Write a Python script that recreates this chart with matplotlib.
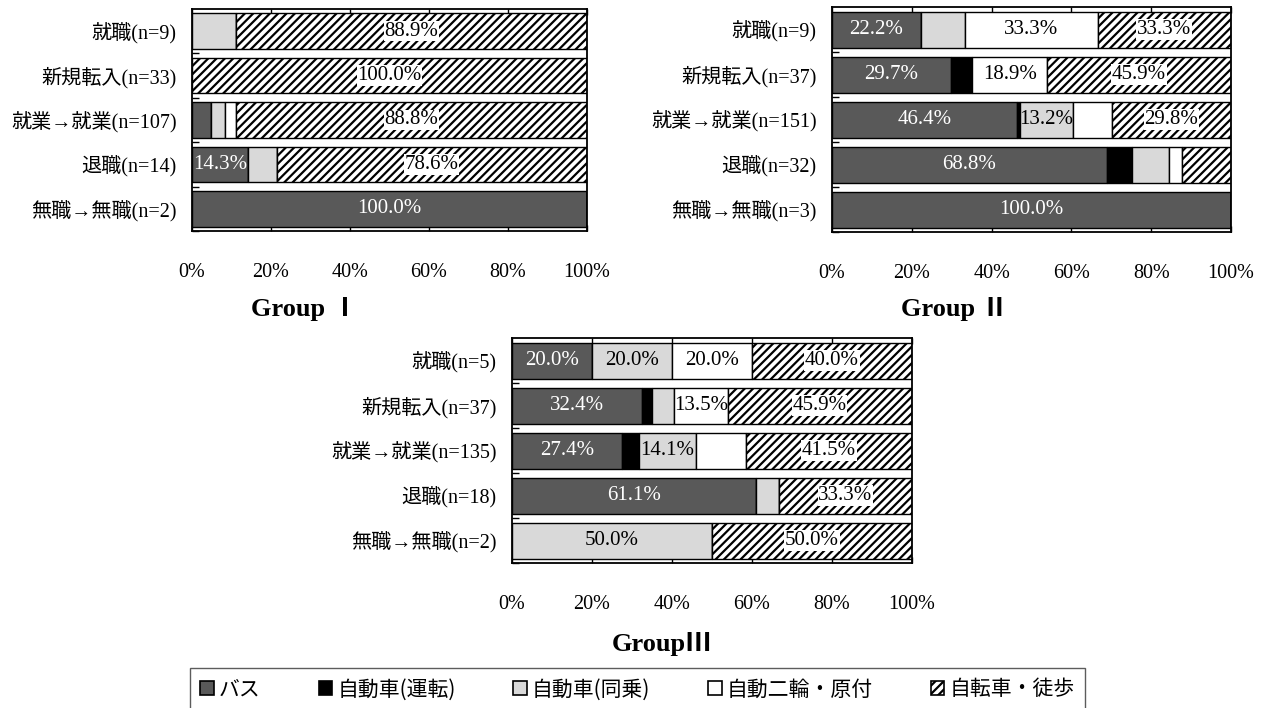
import numpy as np
import matplotlib
matplotlib.use("Agg")
import matplotlib.pyplot as plt
from matplotlib.patches import Patch

plt.rcParams['hatch.linewidth'] = 1.6
SERIF = ['Liberation Serif', 'Noto Sans CJK JP']
SANS = ['Noto Sans CJK JP', 'DejaVu Sans']

modes = ['バス', '自動車(運転)', '自動車(同乗)', '自動二輪・原付', '自転車・徒歩']

cats_I = ['就職(n=9)', '新規転入(n=33)', '就業→就業(n=107)', '退職(n=14)', '無職→無職(n=2)']
bus_I = [0.0, 0.0, 4.7, 14.3, 100.0]
drive_I = [0.0, 0.0, 0.0, 0.0, 0.0]
ride_I = [11.1, 0.0, 3.7, 7.1, 0.0]
moto_I = [0.0, 0.0, 2.8, 0.0, 0.0]
walk_I = [88.9, 100.0, 88.8, 78.6, 0.0]

cats_II = ['就職(n=9)', '新規転入(n=37)', '就業→就業(n=151)', '退職(n=32)', '無職→無職(n=3)']
bus_II = [22.2, 29.7, 46.4, 68.8, 100.0]
drive_II = [0.0, 5.4, 0.7, 6.3, 0.0]
ride_II = [11.1, 0.0, 13.2, 9.4, 0.0]
moto_II = [33.3, 18.9, 9.9, 3.1, 0.0]
walk_II = [33.3, 45.9, 29.8, 12.5, 0.0]

cats_III = ['就職(n=5)', '新規転入(n=37)', '就業→就業(n=135)', '退職(n=18)', '無職→無職(n=2)']
bus_III = [20.0, 32.4, 27.4, 61.1, 0.0]
drive_III = [0.0, 2.7, 4.4, 0.0, 0.0]
ride_III = [20.0, 5.4, 14.1, 5.6, 50.0]
moto_III = [20.0, 13.5, 12.6, 0.0, 0.0]
walk_III = [40.0, 45.9, 41.5, 33.3, 50.0]

x_ticks = [0, 20, 40, 60, 80, 100]
x_ticklabels = ['0%', '20%', '40%', '60%', '80%', '100%']

face = ['#595959', '#000000', '#d9d9d9', '#ffffff', '#ffffff']
hatch = [None, None, None, None, '////']
LABEL_MIN = 13.0

W, H = 1264, 708
fig = plt.figure(figsize=(W / 100, H / 100), dpi=100)


def px_axes(left, top, right, bottom):
    return fig.add_axes([left / W, 1 - bottom / H, (right - left) / W, (bottom - top) / H])


def draw_group(ax, cats, series):
    y = np.arange(len(cats))
    left = np.zeros(len(cats))
    for k, vals in enumerate(series):
        vals = np.asarray(vals, dtype=float)
        ax.barh(y, vals, left=left, height=0.8, color=face[k], hatch=hatch[k],
                edgecolor='black', linewidth=1.0, zorder=2)
        for yi, (l, v) in enumerate(zip(left, vals)):
            if v >= LABEL_MIN:
                kw = dict(ha='center', va='center', fontsize=15, family=SERIF, zorder=4)
                kw['color'] = 'white' if k == 0 else 'black'
                if hatch[k]:
                    kw['bbox'] = dict(facecolor='white', edgecolor='none', pad=0.5)
                ax.text(l + v / 2, yi, f'{v:.1f}%', **kw)
        left = left + vals
    ax.set_xlim(0, 100)
    ax.set_ylim(len(cats) - 0.5, -0.5)
    ax.set_xticks(x_ticks)
    ax.set_xticklabels(x_ticklabels, family=SERIF, fontsize=14.5)
    ax.tick_params(axis='x', direction='in', top=True, bottom=True, length=4,
                   width=1.0, pad=23)
    ax.set_yticks(y)
    ax.set_yticklabels(cats, family=SERIF, fontsize=14.5)
    ax.tick_params(axis='y', length=0, pad=11)
    ax.set_yticks(np.arange(len(cats)) + 0.5, minor=True)
    ax.tick_params(axis='y', which='minor', direction='in', length=5, width=1.0)
    for s in ax.spines.values():
        s.set_linewidth(1.3)
        s.set_color('black')


ax1 = px_axes(192, 9, 587, 231)
draw_group(ax1, cats_I, [bus_I, drive_I, ride_I, moto_I, walk_I])
ax2 = px_axes(832, 7, 1231, 232)
draw_group(ax2, cats_II, [bus_II, drive_II, ride_II, moto_II, walk_II])
ax3 = px_axes(512, 338, 912, 563)
draw_group(ax3, cats_III, [bus_III, drive_III, ride_III, moto_III, walk_III])

title_kw = dict(ha='center', va='center', fontsize=19, fontweight='bold', family=SERIF)
fig.text(305 / W, 1 - 309 / H, 'Group Ⅰ', **title_kw)
fig.text(955 / W, 1 - 309 / H, 'Group Ⅱ', **title_kw)
fig.text(662 / W, 1 - 644 / H, 'GroupⅢ', **title_kw)

handles = [Patch(facecolor=face[k], edgecolor='black', hatch=hatch[k], linewidth=1.2)
           for k in range(len(modes))]
leg = fig.legend(handles, modes, loc='upper left', ncol=5, mode='expand',
                 bbox_to_anchor=(190 / W, 1 - 720 / H, 895 / W, 52 / H),
                 prop={'family': SANS, 'size': 15}, frameon=True, fancybox=False,
                 handlelength=0.65, handleheight=0.65, handletextpad=0.25,
                 borderaxespad=0.0, borderpad=0.5)
leg.get_frame().set_edgecolor('#333333')
leg.get_frame().set_linewidth(1.0)

fig.savefig('out.png', dpi=100)
